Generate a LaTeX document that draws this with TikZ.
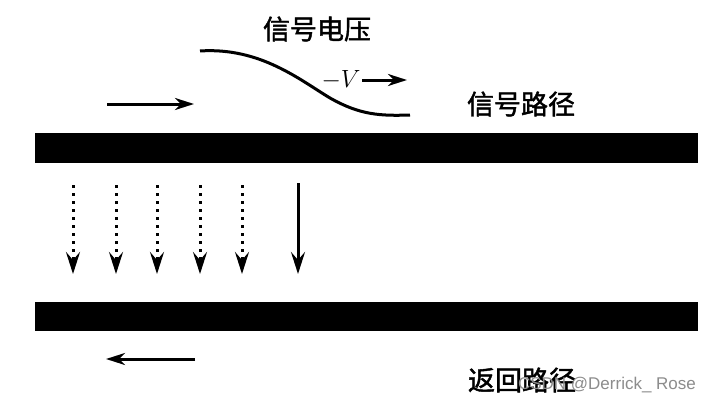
\documentclass[tikz,border=0pt]{standalone}
\usepackage{fontspec}
\newfontfamily\cjk[FakeBold=1.6]{Noto Sans CJK SC}
\newfontfamily\wm{Liberation Sans}
\usetikzlibrary{arrows.meta}
\begin{document}
\begin{tikzpicture}[x=1pt,y=-1pt,
  bar/.style={fill=black,draw=none},
  flow/.style={line width=3pt,-{Stealth[length=19pt,width=12pt,inset=6pt]}},
  field/.style={line width=3pt,dash pattern=on 3pt off 5pt,-{Stealth[length=22pt,width=14pt,inset=8pt]}},
  sfield/.style={line width=3pt,-{Stealth[length=22pt,width=14pt,inset=8pt]}},
  lab/.style={font=\cjk\fontsize{27}{30}\selectfont,inner sep=0pt}]
\useasboundingbox (0,0) rectangle (717,404);
\fill[white] (0,0) rectangle (717,404);
% conductors
\path[bar] (35,133) rectangle (698,163);
\path[bar] (35,302) rectangle (698,331);
% current arrows
\coordinate (fa1) at (107,104); \coordinate (fa2) at (194,104);
\draw[flow] (fa1) -- (fa2);
\coordinate (ra1) at (195,359); \coordinate (ra2) at (106,359);
\draw[flow] (ra1) -- (ra2);
% signal voltage step
\coordinate (s0) at (200,51);
\coordinate (s1) at (410,115);
\draw[line width=3pt] (s0) .. controls (260,47) and (300,80) .. (330,98) .. controls (360,115) and (380,116) .. (s1);
% -V ->
\node[inner sep=0pt,font=\fontsize{26}{28}\selectfont] (v) at (341,80) {$-V$};
\coordinate (va1) at (362,80); \coordinate (va2) at (407,80);
\draw[flow] (va1) -- (va2);
% field arrows
\foreach \x/\n in {73/a,116/b,157/c,200/d,242/e}{
  \coordinate (t\n) at (\x,185); \coordinate (b\n) at (\x,274);
  \draw[field] (t\n) -- (b\n);
}
\coordinate (tf) at (298,183); \coordinate (bf) at (298,274);
\draw[sfield] (tf) -- (bf);
% labels
\node[lab] (sv) at (317,29) {信号电压};
\node[lab] (sp) at (521,104) {信号路径};
\node[lab] (rp) at (522,380) {返回路径};
\node[inner sep=0pt,text=black!45,font=\wm\fontsize{17}{19}\selectfont] (w) at (607,385) {CSDN @Derrick\_ Rose};
\end{tikzpicture}
\end{document}
